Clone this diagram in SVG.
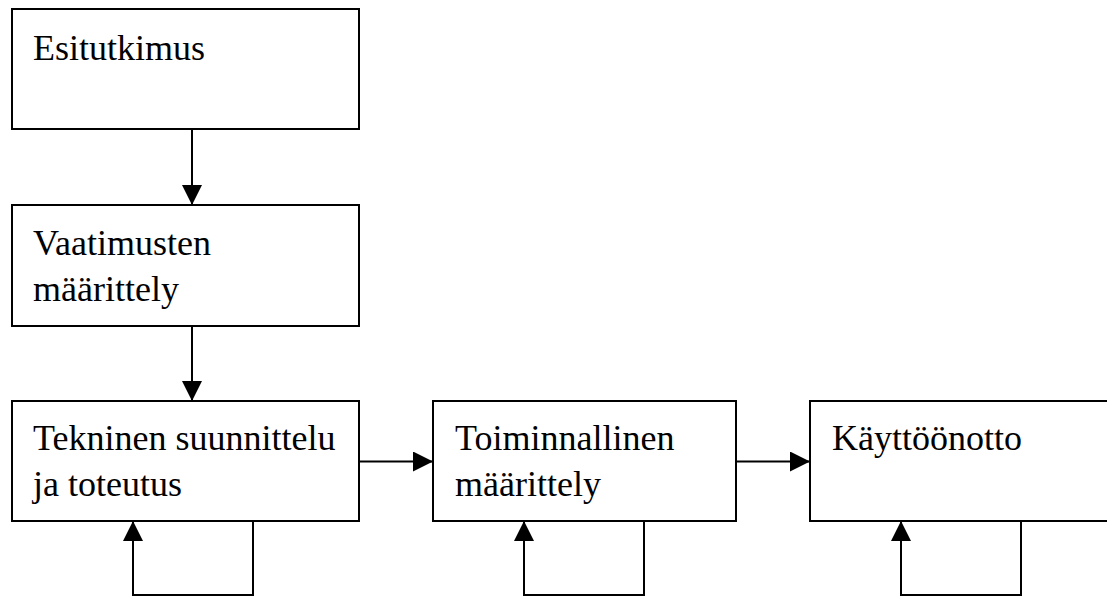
<svg xmlns="http://www.w3.org/2000/svg" width="1107" height="597" viewBox="0 0 1107 597">
  <style>
    .box { fill: #ffffff; stroke: #000000; stroke-width: 2; }
    .lbl { font-family: "Liberation Serif", "Times New Roman", serif; font-size: 36px; fill: #000000; }
    .edge { fill: none; stroke: #000000; stroke-width: 2; }
  </style>
  <defs>
    <marker id="arrow" markerUnits="userSpaceOnUse" markerWidth="20" markerHeight="20" refX="20" refY="10" orient="auto">
      <path d="M0,0 L20,10 L0,20 Z" fill="#000000"/>
    </marker>
  </defs>
  <rect width="1107" height="597" fill="#ffffff"/>

  <g id="node-esitutkimus">
    <rect class="box" x="12" y="9" width="347" height="120"/>
    <text class="lbl" x="33" y="60">Esitutkimus</text>
  </g>

  <g id="node-vaatimusten-maarittely">
    <rect class="box" x="12" y="205" width="347" height="121"/>
    <text class="lbl" x="33" y="255">Vaatimusten</text>
    <text class="lbl" x="33" y="301">määrittely</text>
  </g>

  <g id="node-tekninen-suunnittelu">
    <rect class="box" x="12" y="401" width="347" height="120"/>
    <text class="lbl" x="33" y="450">Tekninen suunnittelu</text>
    <text class="lbl" x="33" y="496">ja toteutus</text>
  </g>

  <g id="node-toiminnallinen-maarittely">
    <rect class="box" x="433" y="401" width="303" height="120"/>
    <text class="lbl" x="455" y="450">Toiminnallinen</text>
    <text class="lbl" x="455" y="496">määrittely</text>
  </g>

  <g id="node-kayttoonotto">
    <rect class="box" x="810" y="401" width="320" height="120"/>
    <text class="lbl" x="832" y="450">Käyttöönotto</text>
  </g>

  <g id="connectors">
    <line class="edge" x1="192" y1="129" x2="192" y2="205" marker-end="url(#arrow)"/>
    <line class="edge" x1="192" y1="326" x2="192" y2="401" marker-end="url(#arrow)"/>
    <line class="edge" x1="359" y1="461.5" x2="433" y2="461.5" marker-end="url(#arrow)"/>
    <line class="edge" x1="736" y1="461.5" x2="810" y2="461.5" marker-end="url(#arrow)"/>
    <polyline class="edge" points="253,521 253,595 133,595 133,521" marker-end="url(#arrow)"/>
    <polyline class="edge" points="644,521 644,595 524,595 524,521" marker-end="url(#arrow)"/>
    <polyline class="edge" points="1021,521 1021,595 901,595 901,521" marker-end="url(#arrow)"/>
  </g>
</svg>
